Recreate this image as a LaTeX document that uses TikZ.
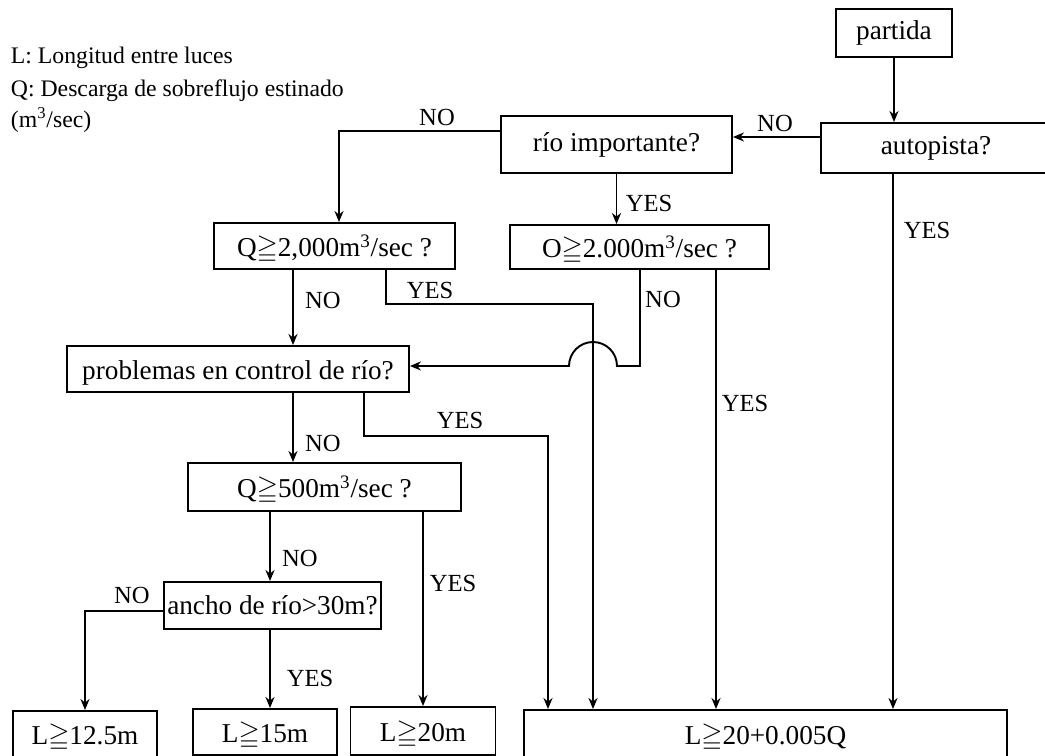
\documentclass[tikz,border=0pt]{standalone}
\usepackage{fontspec}
\setmainfont{Liberation Serif}
\usepackage{amssymb}
\usetikzlibrary{arrows.meta}
\begin{document}
\begin{tikzpicture}[x=0.02cm, y=-0.02cm, line width=1.1pt,
    box/.style = {draw, inner sep=0pt, font=\fontsize{15.5}{18}\selectfont},
    low/.style = {text height=1.2em, text depth=0pt},
    lbl/.style = {inner sep=0pt, font=\fontsize{14}{16}\selectfont},
    note/.style = {inner sep=0pt, anchor=base west, font=\fontsize{13.5}{16}\selectfont},
    arr/.style = {-{Stealth[length=2.2mm, width=1.8mm, inset=0.7mm]}}]

      \clip (0,0) rectangle (1045,756);

      \node[note] (note_L) at (10,64) {L: Longitud entre luces};
      \node[note] (note_Q) at (10,97) {Q: Descarga de sobreflujo estinado};
      \node[note] (note_U) at (10,128) {(m\textsuperscript{3}/sec)};

      \node[box, minimum width=2.32cm, minimum height=0.96cm] (partida) at (894,33) {partida};
      \node[box, minimum width=4.6cm, minimum height=1cm] (autopista) at (936,148) {autopista?};
      \node[box, minimum width=4.62cm, minimum height=1.14cm] (rio) at (616.5,144.5) {río importante?};
      \node[box, low, minimum width=4.82cm, minimum height=0.92cm] (Q_2000_a) at (334.5,246) {Q$\geqq$2,000m\textsuperscript{3}/sec ?};
      \node[box, low, minimum width=5.18cm, minimum height=0.88cm] (Q_2000_b) at (639.5,247) {O$\geqq$2.000m\textsuperscript{3}/sec ?};
      \node[box, low, minimum width=6.84cm, minimum height=0.92cm] (control) at (238,369) {problemas en control de río?};
      \node[box, low, minimum width=5.46cm, minimum height=0.96cm] (Q_500) at (324.5,487) {Q$\geqq$500m\textsuperscript{3}/sec ?};
      \node[box, minimum width=4.34cm, minimum height=0.94cm] (ancho) at (272.5,605.5) {ancho de río>30m?};

      \node[box, low, minimum width=2.88cm, minimum height=0.92cm] (L_1) at (85,734) {L$\geqq$12.5m};
      \node[box, low, minimum width=2.88cm, minimum height=0.92cm] (L_2) at (265,732) {L$\geqq$15m};
      \node[box, low, minimum width=2.9cm, minimum height=0.96cm] (L_3) at (423,731) {L$\geqq$20m};
      \node[box, low, minimum width=9.66cm, minimum height=0.94cm] (L_4) at (765.5,733.5) {L$\geqq$20+0.005Q};

      \draw[arr] (partida.south) -- (partida.south |- autopista.north);
      \draw[arr] (autopista.west |- 0,137) -- (rio.east |- 0,137);
      \draw[arr] (autopista.south -| 893,0) -- (L_4.north -| 893,0);

      \draw[arr] (rio.west |- 0,131) -| (Q_2000_a.north -| 339,0);
      \draw[arr] (rio.south) -- (rio.south |- Q_2000_b.north);

      \draw[arr] (Q_2000_a.south -| 293,0) -- (control.north -| 293,0);
      \draw[arr] (Q_2000_a.south -| 386,0) |- (593,304) -- (L_4.north -| 593,0);

      \draw[arr] (Q_2000_b.south -| 640,0) |- (617,366)
        arc[start angle=0, end angle=180, radius=0.48cm] -- (control.east |- 0,366);
      \draw[arr] (Q_2000_b.south -| 716,0) -- (L_4.north -| 716,0);

      \draw[arr] (control.south -| 293,0) -- (Q_500.north -| 293,0);
      \draw[arr] (control.south -| 364,0) |- (548,436) -- (L_4.north -| 548,0);

      \draw[arr] (Q_500.south -| 270,0) -- (ancho.north -| 270,0);
      \draw[arr] (Q_500.south -| L_3.north) -- (L_3.north);

      \draw[arr] (ancho.west |- 0,611) -| (L_1.north);
      \draw[arr] (ancho.south -| 270,0) -- (L_2.north -| 270,0);

      \node[lbl] (no_1) at (775,123) {NO};
      \node[lbl] (no_2) at (437,117) {NO};
      \node[lbl] (yes_1) at (649,203) {YES};
      \node[lbl] (yes_2) at (927,230) {YES};
      \node[lbl] (no_3) at (323,300) {NO};
      \node[lbl] (yes_3) at (430,290) {YES};
      \node[lbl] (no_4) at (663,299) {NO};
      \node[lbl] (yes_4) at (745,403) {YES};
      \node[lbl] (yes_5) at (460,420) {YES};
      \node[lbl] (no_5) at (323,443) {NO};
      \node[lbl] (no_6) at (300,558) {NO};
      \node[lbl] (yes_6) at (453,583) {YES};
      \node[lbl] (no_7) at (132,595) {NO};
      \node[lbl] (yes_7) at (310,678) {YES};

      \end{tikzpicture}
\end{document}
